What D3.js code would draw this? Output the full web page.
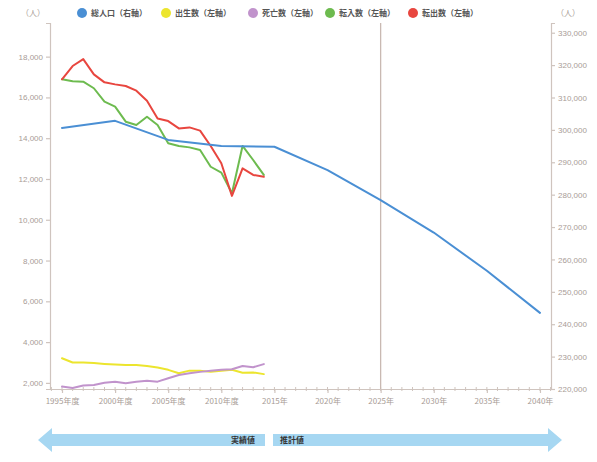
<!DOCTYPE html>
<html><head><meta charset="utf-8">
<script src="https://cdn.jsdelivr.net/npm/d3@7"></script>
<style>
body{margin:0;background:#fff;}
svg text{font-family:"Noto Sans CJK JP","Noto Sans",sans-serif;}
</style></head>
<body><svg id="c" width="597" height="462"></svg>
<script>
const actualYears = [1995,1996,1997,1998,1999,2000,2001,2002,2003,2004,2005,2006,2007,2008,2009,2010,2011,2012,2013,2014];
const births = [3210,3000,3000,2970,2930,2900,2880,2880,2830,2750,2640,2470,2600,2590,2540,2590,2640,2500,2510,2430];
const deaths = [1820,1750,1870,1900,2010,2060,1980,2060,2100,2060,2230,2390,2470,2540,2590,2640,2670,2830,2770,2920];
const moveIn = [16890,16790,16770,16450,15790,15550,14810,14650,15050,14650,13750,13620,13550,13420,12600,12310,11300,13620,12930,12200];
const moveOut = [16890,17540,17880,17130,16740,16640,16560,16330,15840,14970,14840,14480,14530,14370,13620,12770,11170,12520,12200,12110];
const popYears = [1995,2000,2005,2010,2015,2020,2025,2030,2035,2040];
const population = [300600,302800,296900,295000,294800,287600,278300,268300,256500,243500];
const xTickYears = [1995,2000,2005,2010,2015,2020,2025,2030,2035,2040];
const xTickLabels = ["1995年度","2000年度","2005年度","2010年度","2015年","2020年","2025年","2030年","2035年","2040年"];
const leftTicks = [2000,4000,6000,8000,10000,12000,14000,16000,18000];
const rightTicks = [220000,230000,240000,250000,260000,270000,280000,290000,300000,310000,320000,330000];
const legendNames = ["総人口（右軸）","出生数（左軸）","死亡数（左軸）","転入数（左軸）","転出数（左軸）"];
const colors = ["#4a8fd4","#ece52e","#c193cc","#6dbb4f","#e8463f"];
const unitLabel = "（人）";
const splitYear = 2025;
const phaseLabels = ["実績値","推計値"];

const svg = d3.select("#c");
const L = 50, R = 551, T = 23, B = 389;
const axisCol = "#cfc4be", textCol = "#a89c96";

const x = d3.scaleLinear().domain([1993.87, 2041.04]).range([L, R]);
const yL = d3.scaleLinear().domain([1700, 19650]).range([B, T]);
const yR = d3.scaleLinear().domain([220000, 333000]).range([B, T]);

// left axis
const gl = svg.append("g").attr("transform",`translate(${L},0)`)
  .call(d3.axisLeft(yL).tickValues(leftTicks).tickFormat(d3.format(",")).tickSize(4).tickSizeOuter(4));
const gr = svg.append("g").attr("transform",`translate(${R},0)`)
  .call(d3.axisRight(yR).tickValues(rightTicks).tickFormat(d3.format(",")).tickSize(4).tickSizeOuter(4));
const gx = svg.append("g").attr("transform",`translate(0,${B})`)
  .call(d3.axisBottom(x).tickValues(xTickYears).tickFormat((d,i)=>xTickLabels[i]).tickSize(4).tickSizeOuter(0));
// minor ticks
const minor = d3.range(1994, 2042);
svg.append("g").selectAll("line").data(minor).join("line")
  .attr("x1",d=>x(d)).attr("x2",d=>x(d)).attr("y1",B-2).attr("y2",B+2)
  .attr("stroke",axisCol).attr("stroke-width",1);
[gl,gr,gx].forEach(g=>{
  g.selectAll("path,line").attr("stroke",axisCol).attr("stroke-width",1.2);
  g.selectAll("text").attr("fill",textCol).style("font-size","8px").style("font-family","'Liberation Sans',sans-serif");
});
gx.selectAll("text").style("font-family","'Noto Sans CJK JP',sans-serif").attr("dy","1.0em");

// split line
svg.append("line").attr("x1",x(splitYear)).attr("x2",x(splitYear)).attr("y1",T).attr("y2",B)
  .attr("stroke","#c9b9b2").attr("stroke-width",1.3);

// lines
const lineL = d3.line().x((d,i)=>x(actualYears[i])).y(d=>yL(d));
const lineR = d3.line().x((d,i)=>x(popYears[i])).y(d=>yR(d));
const draw = (path,data,col)=>svg.append("path").datum(data).attr("d",path).attr("fill","none")
  .attr("stroke",col).attr("stroke-width",2).attr("stroke-linejoin","round").attr("stroke-linecap","round");
draw(lineL, births, colors[1]);
draw(lineL, deaths, colors[2]);
draw(lineL, moveIn, colors[3]);
draw(lineL, moveOut, colors[4]);
draw(lineR, population, colors[0]);

// unit labels
svg.append("text").attr("x",45).attr("y",16).attr("text-anchor","end").attr("fill",textCol).style("font-size","8px").text(unitLabel);
svg.append("text").attr("x",556).attr("y",16).attr("fill",textCol).style("font-size","8px").text(unitLabel);

// legend
const legX = [82,166,253,330,413];
const lg = svg.append("g").selectAll("g").data(legendNames).join("g")
  .attr("transform",(d,i)=>`translate(${legX[i]},13)`);
lg.append("circle").attr("r",5).attr("fill",(d,i)=>colors[i]);
lg.append("text").attr("x",9).attr("y",3).attr("fill","#555").style("font-size","8px").style("font-weight","bold").text(d=>d);

// phase arrow
const ay = 440, bh = 6, hh = 12, hl = 14;
const xl = 38, xr = 562, gapL = 265, gapR = 273;
const arrowCol = "#a6d7f2";
svg.append("path").attr("fill",arrowCol)
  .attr("d",`M${xl},${ay} L${xl+hl},${ay-hh} L${xl+hl},${ay-bh} L${gapL},${ay-bh} L${gapL},${ay+bh} L${xl+hl},${ay+bh} L${xl+hl},${ay+hh} Z`);
svg.append("path").attr("fill",arrowCol)
  .attr("d",`M${xr},${ay} L${xr-hl},${ay-hh} L${xr-hl},${ay-bh} L${gapR},${ay-bh} L${gapR},${ay+bh} L${xr-hl},${ay+bh} L${xr-hl},${ay+hh} Z`);
svg.append("text").attr("x",gapL-10).attr("y",ay+3).attr("text-anchor","end").attr("fill","#333")
  .style("font-size","8px").style("font-weight","bold").text(phaseLabels[0]);
svg.append("text").attr("x",gapR+7).attr("y",ay+3).attr("fill","#333")
  .style("font-size","8px").style("font-weight","bold").text(phaseLabels[1]);
</script></body></html>
